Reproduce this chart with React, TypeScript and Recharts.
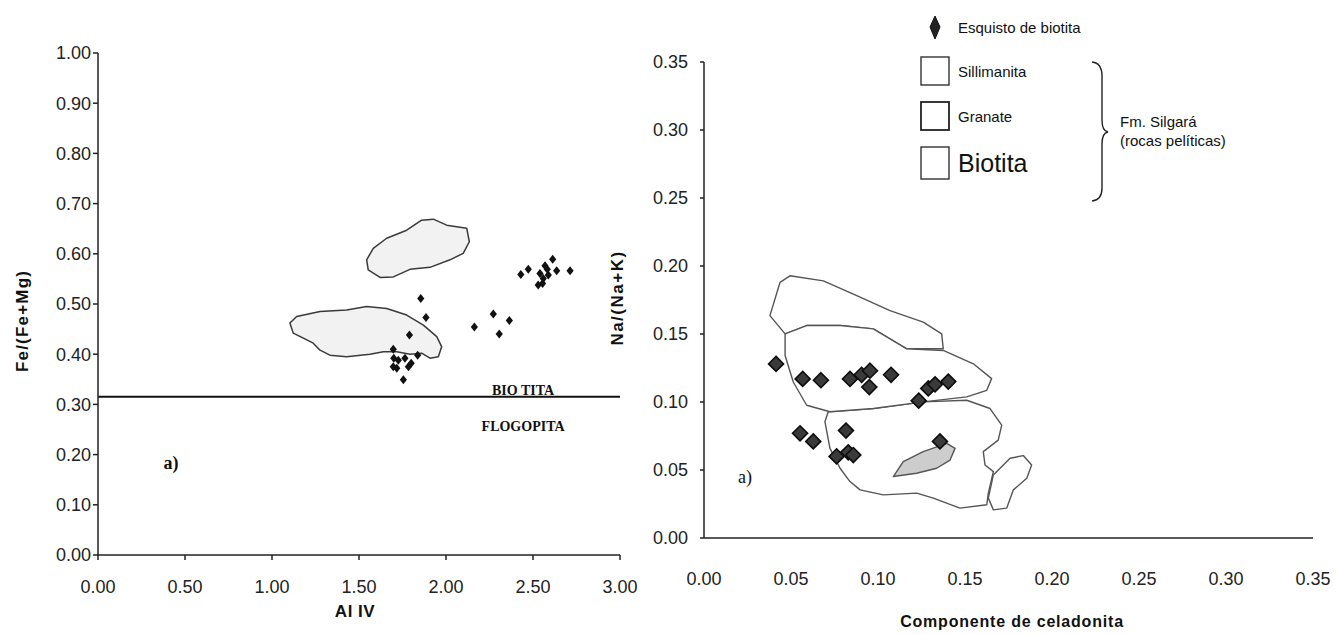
import React from 'react';
import { ScatterChart, Scatter, XAxis, YAxis, ReferenceLine, ReferenceDot } from 'recharts';

// ---------- Left panel: Al IV vs Fe/(Fe+Mg) ----------
const alIvTicks = [0, 0.5, 1, 1.5, 2, 2.5, 3];
const feMgTicks = [0, 0.1, 0.2, 0.3, 0.4, 0.5, 0.6, 0.7, 0.8, 0.9, 1.0];
const biotitaFlogopitaLimit = 0.315;

const leftSamples = [
  { x: 1.855, y: 0.511 }, { x: 1.885, y: 0.473 }, { x: 1.79, y: 0.438 },
  { x: 1.697, y: 0.41 }, { x: 1.70, y: 0.392 }, { x: 1.697, y: 0.375 },
  { x: 1.726, y: 0.388 }, { x: 1.764, y: 0.392 }, { x: 1.784, y: 0.375 },
  { x: 1.80, y: 0.382 }, { x: 1.837, y: 0.398 }, { x: 1.755, y: 0.349 },
  { x: 1.717, y: 0.372 },
  { x: 2.163, y: 0.454 }, { x: 2.272, y: 0.48 }, { x: 2.364, y: 0.467 }, { x: 2.306, y: 0.44 },
  { x: 2.43, y: 0.559 }, { x: 2.473, y: 0.569 }, { x: 2.54, y: 0.561 }, { x: 2.569, y: 0.576 },
  { x: 2.613, y: 0.589 }, { x: 2.582, y: 0.569 }, { x: 2.636, y: 0.566 }, { x: 2.559, y: 0.551 },
  { x: 2.53, y: 0.538 }, { x: 2.555, y: 0.541 }, { x: 2.588, y: 0.558 }, { x: 2.713, y: 0.566 },
];

const leftFieldUpper = [
  { x: 1.544, y: 0.588 }, { x: 1.582, y: 0.611 }, { x: 1.659, y: 0.631 }, { x: 1.774, y: 0.647 },
  { x: 1.86, y: 0.667 }, { x: 1.927, y: 0.669 }, { x: 2.004, y: 0.657 }, { x: 2.119, y: 0.651 },
  { x: 2.134, y: 0.624 }, { x: 2.099, y: 0.601 }, { x: 2.023, y: 0.588 }, { x: 1.908, y: 0.573 },
  { x: 1.793, y: 0.569 }, { x: 1.697, y: 0.554 }, { x: 1.621, y: 0.553 }, { x: 1.553, y: 0.568 },
];

const leftFieldLower = [
  { x: 1.103, y: 0.462 }, { x: 1.142, y: 0.475 }, { x: 1.276, y: 0.485 }, { x: 1.429, y: 0.488 },
  { x: 1.544, y: 0.495 }, { x: 1.659, y: 0.491 }, { x: 1.774, y: 0.478 }, { x: 1.87, y: 0.458 },
  { x: 1.947, y: 0.435 }, { x: 1.975, y: 0.415 }, { x: 1.956, y: 0.395 }, { x: 1.908, y: 0.392 },
  { x: 1.86, y: 0.402 }, { x: 1.793, y: 0.4 }, { x: 1.717, y: 0.405 }, { x: 1.64, y: 0.405 },
  { x: 1.563, y: 0.4 }, { x: 1.429, y: 0.395 }, { x: 1.333, y: 0.398 }, { x: 1.276, y: 0.408 },
  { x: 1.237, y: 0.422 }, { x: 1.18, y: 0.432 }, { x: 1.122, y: 0.442 },
];

// ---------- Right panel: Componente de celadonita vs Na/(Na+K) ----------
const celTicks = [0, 0.05, 0.1, 0.15, 0.2, 0.25, 0.3, 0.35];
const naTicks = [0, 0.05, 0.1, 0.15, 0.2, 0.25, 0.3, 0.35];

const rightSamples = [
  { x: 0.0414, y: 0.128 }, { x: 0.0567, y: 0.117 }, { x: 0.0672, y: 0.116 },
  { x: 0.0839, y: 0.117 }, { x: 0.0906, y: 0.12 }, { x: 0.0954, y: 0.123 },
  { x: 0.095, y: 0.111 }, { x: 0.1075, y: 0.12 }, { x: 0.1234, y: 0.101 },
  { x: 0.1289, y: 0.11 }, { x: 0.1328, y: 0.113 }, { x: 0.1404, y: 0.115 },
  { x: 0.0552, y: 0.077 }, { x: 0.0628, y: 0.071 }, { x: 0.0816, y: 0.079 },
  { x: 0.0762, y: 0.06 }, { x: 0.0829, y: 0.063 }, { x: 0.0858, y: 0.061 },
  { x: 0.1356, y: 0.071 },
];

const sillimanitaField = [
  { x: 0.0379, y: 0.1635 }, { x: 0.0437, y: 0.188 }, { x: 0.0494, y: 0.1928 }, { x: 0.0686, y: 0.1891 },
  { x: 0.0878, y: 0.1782 }, { x: 0.1069, y: 0.1672 }, { x: 0.126, y: 0.1587 }, { x: 0.1366, y: 0.1501 },
  { x: 0.1375, y: 0.1391 }, { x: 0.1165, y: 0.1391 }, { x: 0.0973, y: 0.1538 }, { x: 0.0782, y: 0.1562 },
  { x: 0.059, y: 0.1562 }, { x: 0.0466, y: 0.1501 },
];

const granateField = [
  { x: 0.0466, y: 0.1501 }, { x: 0.059, y: 0.1562 }, { x: 0.0782, y: 0.1562 }, { x: 0.0973, y: 0.1538 },
  { x: 0.1165, y: 0.1391 }, { x: 0.1375, y: 0.1379 }, { x: 0.1548, y: 0.1281 }, { x: 0.1653, y: 0.1172 },
  { x: 0.1625, y: 0.1086 }, { x: 0.151, y: 0.1038 }, { x: 0.126, y: 0.1001 }, { x: 0.0973, y: 0.0952 },
  { x: 0.0724, y: 0.0928 }, { x: 0.059, y: 0.0976 }, { x: 0.0513, y: 0.1147 }, { x: 0.0466, y: 0.1342 },
];

const biotitaField = [
  { x: 0.0714, y: 0.0928 }, { x: 0.0973, y: 0.0952 }, { x: 0.126, y: 0.1001 }, { x: 0.151, y: 0.1013 },
  { x: 0.1644, y: 0.0952 }, { x: 0.1711, y: 0.083 }, { x: 0.1691, y: 0.072 }, { x: 0.1605, y: 0.0635 },
  { x: 0.1615, y: 0.0537 }, { x: 0.1663, y: 0.0488 }, { x: 0.1634, y: 0.033 }, { x: 0.1625, y: 0.0244 },
  { x: 0.1471, y: 0.022 }, { x: 0.1318, y: 0.0293 }, { x: 0.1222, y: 0.033 }, { x: 0.103, y: 0.0317 },
  { x: 0.0897, y: 0.0354 }, { x: 0.0839, y: 0.0415 }, { x: 0.0782, y: 0.0513 }, { x: 0.0724, y: 0.0659 },
  { x: 0.0695, y: 0.0855 },
];

const biotitaSmallField = [
  { x: 0.1663, y: 0.0464 }, { x: 0.1759, y: 0.0586 }, { x: 0.1835, y: 0.0606 }, { x: 0.1883, y: 0.0537 },
  { x: 0.1855, y: 0.0439 }, { x: 0.1778, y: 0.0354 }, { x: 0.174, y: 0.022 }, { x: 0.1663, y: 0.0207 },
  { x: 0.1634, y: 0.0293 },
];

const shadedField = [
  { x: 0.1088, y: 0.0452 }, { x: 0.1145, y: 0.0562 }, { x: 0.126, y: 0.0635 }, { x: 0.1395, y: 0.0696 },
  { x: 0.1443, y: 0.0659 }, { x: 0.1414, y: 0.0573 }, { x: 0.1337, y: 0.0513 }, { x: 0.1222, y: 0.0476 },
];

// ---------- styling helpers ----------
const SANS = '"Liberation Sans", Arial, sans-serif';
const SERIF = '"Liberation Serif", "Times New Roman", serif';
const fmt2 = (v: number) => v.toFixed(2);
const tickStyle = { fontSize: 18, fill: '#222', fontFamily: SANS };

const polygon = (fill: string, stroke: string, width: number) => (props: any) => {
  const pts = props.points || [];
  if (!pts.length) return <g />;
  const d = pts.map((p: any, i: number) => `${i ? 'L' : 'M'}${p.x},${p.y}`).join(' ') + ' Z';
  return <path d={d} fill={fill} stroke={stroke} strokeWidth={width} strokeLinejoin="round" />;
};

const NoDot = () => <g />;

const SmallMark = (props: any) => {
  const { cx, cy } = props;
  const r = 4.5;
  return <path d={`M${cx},${cy - r} L${cx + r * 0.8},${cy} L${cx},${cy + r} L${cx - r * 0.8},${cy} Z`} fill="#111" />;
};

const BigDiamond = (props: any) => {
  const { cx, cy } = props;
  const r = 7.5;
  return (
    <path
      d={`M${cx},${cy - r} L${cx + r},${cy} L${cx},${cy + r} L${cx - r},${cy} Z`}
      fill="#3a3a3a"
      stroke="#0d0d0d"
      strokeWidth={1.6}
    />
  );
};

const textLabel = (value: string, size: number, family: string, weight: string | number) => (props: any) => {
  const vb = props.viewBox || {};
  const cx = vb.cx !== undefined ? vb.cx : vb.x + (vb.width || 0) / 2;
  const cy = vb.cy !== undefined ? vb.cy : vb.y + (vb.height || 0) / 2;
  return (
    <text x={cx} y={cy} textAnchor="middle" dominantBaseline="central" fontSize={size} fontFamily={family} fontWeight={weight} fill="#111">
      {value}
    </text>
  );
};

const abs = (left: number, top: number): React.CSSProperties => ({ position: 'absolute', left, top });
const titleStyle = (size: number, spacing: number): React.CSSProperties => ({
  fontFamily: SANS, fontWeight: 'bold', fontSize: size, letterSpacing: spacing, color: '#111', whiteSpace: 'nowrap',
});

export default function App() {
  return (
    <div style={{ position: 'absolute', left: 0, top: 0, width: 1341, height: 634, background: '#fff', overflow: 'hidden' }}>
      {/* Left chart */}
      <div style={abs(0, 0)}>
        <ScatterChart width={660} height={634} margin={{ top: 53, right: 40, bottom: 29, left: 10 }}>
          <XAxis
            type="number"
            dataKey="x"
            domain={[0, 3]}
            ticks={alIvTicks}
            tickFormatter={fmt2}
            tick={tickStyle}
            tickSize={5}
            tickMargin={20}
            height={50}
            stroke="#222"
            strokeWidth={1.5}
            interval={0}
          />
          <YAxis
            type="number"
            dataKey="y"
            domain={[0, 1]}
            ticks={feMgTicks}
            tickFormatter={fmt2}
            tick={tickStyle}
            tickSize={5}
            tickMargin={2}
            width={88}
            stroke="#222"
            strokeWidth={1.5}
            interval={0}
          />
          <Scatter data={leftFieldUpper} shape={NoDot} line={polygon('#f2f2f2', '#3a3a3a', 1.5)} isAnimationActive={false} />
          <Scatter data={leftFieldLower} shape={NoDot} line={polygon('#f2f2f2', '#3a3a3a', 1.5)} isAnimationActive={false} />
          <ReferenceLine y={biotitaFlogopitaLimit} stroke="#111" strokeWidth={2} />
          <Scatter data={leftSamples} shape={SmallMark} isAnimationActive={false} />
          <ReferenceDot x={2.443} y={0.327} r={0} fill="none" stroke="none" label={textLabel('BIO TITA', 14, SERIF, 'bold')} />
          <ReferenceDot x={2.443} y={0.255} r={0} fill="none" stroke="none" label={textLabel('FLOGOPITA', 14, SERIF, 'bold')} />
          <ReferenceDot x={0.42} y={0.183} r={0} fill="none" stroke="none" label={textLabel('a)', 18, SERIF, 'bold')} />
        </ScatterChart>
      </div>

      {/* Right chart */}
      <div style={abs(560, 0)}>
        <ScatterChart width={781} height={634} margin={{ top: 62, right: 28, bottom: 36, left: 10 }}>
          <XAxis
            type="number"
            dataKey="x"
            domain={[0, 0.35]}
            ticks={celTicks}
            tickFormatter={fmt2}
            tick={tickStyle}
            tickLine={false}
            tickMargin={28}
            height={60}
            stroke="#222"
            strokeWidth={1.5}
            interval={0}
          />
          <YAxis
            type="number"
            dataKey="y"
            domain={[0, 0.35]}
            ticks={naTicks}
            tickFormatter={fmt2}
            tick={tickStyle}
            tickSize={4}
            tickMargin={12}
            width={134}
            stroke="#222"
            strokeWidth={1.5}
            interval={0}
          />
          <Scatter data={sillimanitaField} shape={NoDot} line={polygon('#ffffff', '#555', 1.4)} isAnimationActive={false} />
          <Scatter data={biotitaField} shape={NoDot} line={polygon('#ffffff', '#555', 1.4)} isAnimationActive={false} />
          <Scatter data={biotitaSmallField} shape={NoDot} line={polygon('#ffffff', '#555', 1.4)} isAnimationActive={false} />
          <Scatter data={granateField} shape={NoDot} line={polygon('#ffffff', '#555', 1.4)} isAnimationActive={false} />
          <Scatter data={shadedField} shape={NoDot} line={polygon('#cdcdcd', '#555', 1.4)} isAnimationActive={false} />
          <Scatter data={rightSamples} shape={BigDiamond} isAnimationActive={false} />
          <ReferenceDot x={0.0236} y={0.045} r={0} fill="none" stroke="none" label={textLabel('a)', 18, SERIF, 'normal')} />
        </ScatterChart>
      </div>

      {/* Axis titles */}
      <div style={{ ...abs(23, 321), transform: 'translate(-50%, -50%) rotate(-90deg)', ...titleStyle(17, 1.2) }}>
        Fe/(Fe+Mg)
      </div>
      <div style={{ ...abs(355, 612), transform: 'translate(-50%, -50%)', ...titleStyle(17, 0.5) }}>
        Al IV
      </div>
      <div style={{ ...abs(618, 298), transform: 'translate(-50%, -50%) rotate(-90deg)', ...titleStyle(17, 1.5) }}>
        Na/(Na+K)
      </div>
      <div style={{ ...abs(1012, 622), transform: 'translate(-50%, -50%)', ...titleStyle(16, 0.8) }}>
        Componente de celadonita
      </div>

      {/* Legend */}
      <svg style={abs(0, 0)} width={1341} height={240} pointerEvents="none">
        <path d="M935,16 L940,27 L935,39 L930,27 Z" fill="#222" stroke="#111" strokeWidth={1} />
        <rect x={921} y={57} width={28} height={28} fill="#fff" stroke="#333" strokeWidth={1.4} />
        <rect x={921} y={102} width={28} height={28} fill="#fff" stroke="#222" strokeWidth={1.8} />
        <rect x={921} y={147} width={28} height={32} fill="#fff" stroke="#333" strokeWidth={1.4} />
        <path d="M1092,62 Q1102,63 1102,76 L1102,120 Q1102,131 1108,132 Q1102,133 1102,144 L1102,188 Q1102,200 1092,201" fill="none" stroke="#222" strokeWidth={1.4} />
        <g fontFamily={SANS} fill="#111">
          <text x={958} y={27} fontSize={15} dominantBaseline="central">Esquisto de biotita</text>
          <text x={958} y={71} fontSize={15} dominantBaseline="central">Sillimanita</text>
          <text x={958} y={116} fontSize={15} dominantBaseline="central">Granate</text>
          <text x={958} y={163} fontSize={25} dominantBaseline="central">Biotita</text>
          <text x={1120} y={121} fontSize={15} dominantBaseline="central">Fm. Silgará</text>
          <text x={1120} y={140} fontSize={15} dominantBaseline="central">(rocas pelíticas)</text>
        </g>
      </svg>
    </div>
  );
}
